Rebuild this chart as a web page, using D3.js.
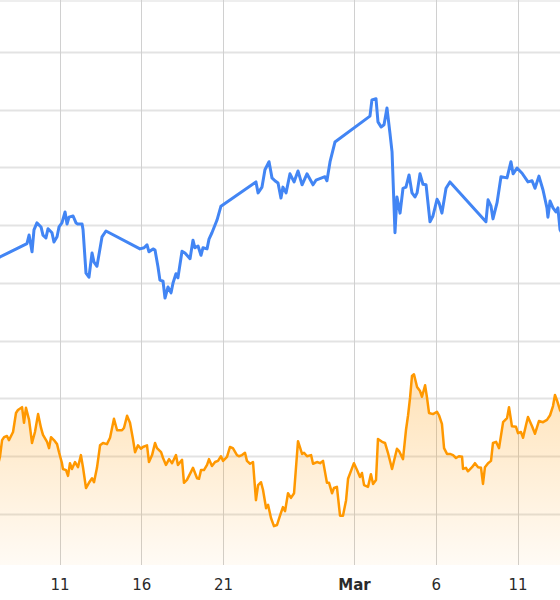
<!DOCTYPE html>
<html>
<head>
<meta charset="utf-8">
<script src="https://cdn.jsdelivr.net/npm/d3@7"></script>
<style>
  html, body { margin: 0; padding: 0; background: #fff; }
  svg { display: block; }
  .tick text { font-family: "DejaVu Sans", Verdana, sans-serif; font-size: 15px; fill: #2a2a2a; }
</style>
</head>
<body>
<svg id="chart" width="560" height="600"></svg>
<script>
// days since Feb 1 (fractional) and value
const baseDate = Date.UTC(2026, 1, 1);

const blueSeries = [
  [6.2, 54.2], [6.36, 54.5], [8.01, 56.8], [8.14, 58.3], [8.32, 55.4], [8.44, 59.2], [8.62, 60.4],
  [8.87, 59.7], [8.99, 58.3], [9.17, 57.8], [9.30, 59.4], [9.54, 58.7], [9.66, 57.1], [9.85, 58.0],
  [9.97, 59.7], [10.15, 60.4], [10.34, 62.3], [10.46, 60.2], [10.58, 61.4], [10.83, 61.6],
  [11.01, 60.4], [11.13, 60.2], [11.38, 60.2], [11.44, 59.2], [11.62, 51.7], [11.80, 51.0],
  [11.99, 55.2], [12.11, 53.6], [12.29, 52.9], [12.60, 58.0], [12.84, 59.0],
  [14.92, 55.9], [15.17, 56.1], [15.35, 56.6], [15.47, 55.4], [15.72, 55.9], [15.84, 55.7],
  [16.02, 52.8], [16.14, 50.5], [16.33, 50.3], [16.45, 47.4], [16.63, 49.3], [16.82, 48.3],
  [16.94, 50.0], [17.12, 51.6], [17.24, 50.9], [17.49, 55.5], [17.67, 55.2], [17.98, 54.2],
  [18.16, 57.4], [18.28, 56.1], [18.47, 56.4], [18.65, 54.8], [18.77, 56.1], [19.02, 55.9],
  [19.14, 57.6], [19.32, 58.7], [19.63, 60.9], [19.87, 63.3],
  [22.01, 67.5], [22.14, 65.6], [22.38, 66.6], [22.56, 69.6], [22.81, 71.0], [22.99, 68.2],
  [23.17, 67.7], [23.36, 67.3], [23.54, 64.7], [23.66, 66.6], [23.85, 65.6], [24.09, 68.9],
  [24.34, 67.5], [24.58, 69.4], [24.83, 67.0], [25.13, 68.9], [25.50, 67.0], [25.68, 67.8],
  [26.23, 68.4], [26.35, 67.7], [26.54, 71.0], [26.84, 74.4],
  [28.98, 78.9], [29.10, 81.7], [29.35, 81.9], [29.47, 77.9], [29.66, 77.0], [29.84, 77.4],
  [30.02, 80.3], [30.20, 76.0], [30.33, 72.7], [30.51, 58.7], [30.63, 64.9], [30.82, 62.1],
  [31.00, 66.4], [31.18, 66.6], [31.37, 68.7], [31.55, 65.6], [31.73, 64.9], [31.86, 65.6],
  [32.04, 68.9], [32.22, 67.1], [32.41, 67.0], [32.65, 60.6], [32.83, 61.6], [33.08, 64.5],
  [33.20, 63.9], [33.38, 62.1], [33.63, 66.4], [33.87, 67.5],
  [36.07, 60.6], [36.20, 64.4], [36.38, 63.3], [36.50, 61.1], [36.75, 63.9], [36.99, 68.4],
  [37.36, 68.2], [37.60, 71.0], [37.73, 68.9], [37.97, 69.9], [38.28, 69.0], [38.64, 67.5],
  [38.89, 67.7], [39.07, 66.4], [39.31, 68.5], [39.56, 66.1], [39.80, 63.0], [39.86, 61.4],
  [39.99, 64.2], [40.17, 63.0], [40.35, 62.3], [40.47, 63.0], [40.60, 59.2], [40.78, 58.3]
];

const orangeSeries = [
  [6.2, 18.0], [6.36, 19.9], [6.49, 22.8], [6.61, 23.3], [6.79, 23.5], [6.91, 22.8], [7.16, 24.2],
  [7.34, 27.5], [7.46, 28.0], [7.71, 28.5], [7.83, 25.8], [7.95, 28.4], [8.14, 26.3], [8.32, 22.3],
  [8.50, 24.2], [8.69, 27.3], [8.87, 24.9], [8.99, 23.7], [9.24, 22.5], [9.36, 21.4], [9.48, 23.3],
  [9.66, 22.8], [9.85, 22.1], [9.97, 20.7], [10.15, 18.8], [10.21, 17.8], [10.40, 17.6],
  [10.52, 16.6], [10.64, 18.8], [10.76, 17.8], [10.95, 19.0], [11.13, 18.1], [11.31, 20.2],
  [11.44, 18.0], [11.62, 14.5], [11.80, 15.4], [11.99, 16.2], [12.11, 15.5], [12.29, 18.0],
  [12.48, 21.9], [12.66, 22.3], [12.90, 22.1], [13.09, 23.2], [13.33, 26.5], [13.52, 24.5],
  [13.82, 24.5], [13.94, 24.9], [14.13, 27.0], [14.31, 25.8], [14.49, 23.0], [14.62, 20.7],
  [14.80, 21.9], [14.98, 21.3], [15.10, 21.6], [15.35, 21.9], [15.47, 19.0], [15.66, 20.2],
  [15.84, 22.3], [15.96, 21.4], [16.21, 20.7], [16.33, 19.7], [16.51, 18.5], [16.70, 19.5],
  [16.88, 18.8], [17.12, 20.2], [17.24, 18.5], [17.49, 19.4], [17.61, 15.4], [17.79, 15.9],
  [18.04, 17.3], [18.16, 18.0], [18.41, 16.2], [18.53, 16.1], [18.65, 17.6], [18.83, 17.6],
  [19.02, 18.5], [19.14, 19.5], [19.32, 18.3], [19.51, 19.0], [19.69, 19.2], [19.87, 20.0],
  [20.00, 19.2], [20.24, 19.9], [20.42, 21.6], [20.60, 21.4], [20.85, 20.2], [20.97, 20.0],
  [21.16, 20.2], [21.34, 20.6], [21.46, 19.2], [21.65, 18.7], [21.83, 19.0], [22.01, 12.4],
  [22.14, 15.0], [22.32, 15.5], [22.44, 14.2], [22.63, 11.0], [22.75, 11.6], [22.93, 9.3],
  [23.11, 7.9], [23.30, 8.1], [23.48, 9.7], [23.66, 11.2], [23.79, 10.5], [23.97, 13.6],
  [24.15, 12.8], [24.34, 13.6], [24.58, 22.6], [24.83, 20.4], [24.95, 20.6], [25.13, 20.0],
  [25.38, 20.2], [25.50, 18.7], [25.74, 19.0], [25.93, 18.8], [26.11, 19.2], [26.35, 15.4],
  [26.48, 15.4], [26.66, 13.6], [26.78, 14.5], [26.96, 14.7], [27.15, 9.7], [27.33, 9.7],
  [27.52, 12.4], [27.64, 16.1], [28.00, 18.8], [28.19, 17.6], [28.37, 16.4], [28.49, 17.1],
  [28.62, 15.0], [28.86, 14.7], [29.04, 16.9], [29.17, 15.2], [29.35, 15.9], [29.47, 23.0],
  [29.72, 22.5], [29.90, 22.3], [30.08, 20.6], [30.33, 17.8], [30.63, 21.3], [30.76, 20.9],
  [31.00, 19.5], [31.18, 24.5], [31.31, 27.1], [31.43, 30.1], [31.55, 33.9], [31.67, 34.2],
  [31.86, 32.0], [32.04, 31.3], [32.16, 30.3], [32.35, 32.3], [32.47, 30.1], [32.59, 27.5],
  [32.83, 27.3], [33.08, 27.7], [33.20, 27.1], [33.38, 25.6], [33.51, 21.4], [33.69, 20.4],
  [33.87, 20.4], [34.06, 20.2], [34.24, 19.7], [34.42, 20.0], [34.61, 19.9], [34.67, 17.8],
  [34.85, 18.0], [34.97, 17.4], [35.22, 18.1], [35.40, 18.8], [35.59, 18.1], [35.77, 18.0],
  [35.89, 15.2], [36.01, 18.1], [36.20, 18.8], [36.38, 19.2], [36.50, 22.3], [36.69, 22.5],
  [36.87, 21.4], [37.12, 25.9], [37.36, 26.6], [37.48, 28.5], [37.66, 25.2], [37.91, 25.1],
  [38.03, 24.0], [38.21, 24.2], [38.34, 23.2], [38.52, 25.4], [38.64, 26.8], [38.89, 25.2],
  [39.07, 23.9], [39.31, 26.1], [39.56, 25.9], [39.80, 26.3], [39.99, 27.1], [40.17, 28.7],
  [40.29, 30.6], [40.41, 29.7], [40.60, 28.0], [40.78, 27.1]
];

const tickDays = [10, 15, 20, 28, 33, 38]; // Feb 11, 16, 21, Mar 1, 6, 11
const gridValues = [10, 20, 30, 40, 50, 60, 70, 80, 90];
const viewDays = [6.3624, 40.598];
const viewValues = [1.17, 99.0];

const dayToDate = (d) => new Date(baseDate + d * 864e5);

const width = 560, height = 600;
const plotBottom = 565;

const svg = d3.select("#chart");

const x = d3.scaleUtc()
  .domain(viewDays.map(dayToDate))
  .range([0, width]);

const y = d3.scaleLinear()
  .domain(viewValues)
  .range([plotBottom, 0]);

const defs = svg.append("defs");
const grad = defs.append("linearGradient")
  .attr("id", "orangeFill")
  .attr("gradientUnits", "userSpaceOnUse")
  .attr("x1", 0).attr("x2", 0)
  .attr("y1", y(34)).attr("y2", plotBottom);
grad.append("stop").attr("offset", "0%").attr("stop-color", "#ff9800").attr("stop-opacity", 0.28);
grad.append("stop").attr("offset", "100%").attr("stop-color", "#ff9800").attr("stop-opacity", 0.04);

// top border strip
svg.append("rect")
  .attr("x", 0).attr("y", 0)
  .attr("width", width).attr("height", 2)
  .attr("fill", "#eee");

// horizontal grid
svg.append("g")
  .selectAll("line")
  .data(gridValues)
  .join("line")
  .attr("x1", 0).attr("x2", width)
  .attr("y1", (d) => Math.round(y(d)) + 0.5)
  .attr("y2", (d) => Math.round(y(d)) + 0.5)
  .attr("stroke", "#e3e3e3")
  .attr("stroke-width", 2);

// vertical grid
svg.append("g")
  .selectAll("line")
  .data(tickDays)
  .join("line")
  .attr("x1", (d) => Math.round(x(dayToDate(d))) + 0.5)
  .attr("x2", (d) => Math.round(x(dayToDate(d))) + 0.5)
  .attr("y1", 0).attr("y2", plotBottom)
  .attr("stroke", "#d0d0d0")
  .attr("stroke-width", 1);

const toPoint = (d) => ({ date: dayToDate(d[0]), value: d[1] });

// orange area + line
const orange = orangeSeries.map(toPoint);
svg.append("path")
  .datum(orange)
  .attr("fill", "url(#orangeFill)")
  .attr("d", d3.area()
    .x((d) => x(d.date))
    .y0(plotBottom)
    .y1((d) => y(d.value)));

svg.append("path")
  .datum(orange)
  .attr("fill", "none")
  .attr("stroke", "#ff9800")
  .attr("stroke-width", 2.5)
  .attr("stroke-linejoin", "round")
  .attr("d", d3.line()
    .x((d) => x(d.date))
    .y((d) => y(d.value)));

// blue line
const blue = blueSeries.map(toPoint);
svg.append("path")
  .datum(blue)
  .attr("fill", "none")
  .attr("stroke", "#4285f4")
  .attr("stroke-width", 3)
  .attr("stroke-linejoin", "round")
  .attr("d", d3.line()
    .x((d) => x(d.date))
    .y((d) => y(d.value)));

// x axis labels
const fmtMonth = d3.utcFormat("%b");
const fmtDay = d3.utcFormat("%-d");
const xAxis = d3.axisBottom(x)
  .tickValues(tickDays.map(dayToDate))
  .tickSize(0)
  .tickPadding(0)
  .tickFormat((d) => (d.getUTCDate() === 1 ? fmtMonth(d) : fmtDay(d)));

const axisG = svg.append("g")
  .attr("transform", `translate(0,${plotBottom})`)
  .call(xAxis);
axisG.select(".domain").remove();
axisG.selectAll(".tick text")
  .attr("dy", null)
  .attr("y", 20)
  .attr("dominant-baseline", "central")
  .style("font-weight", (d) => (d.getUTCDate() === 1 ? "bold" : "normal"));
</script>
</body>
</html>
